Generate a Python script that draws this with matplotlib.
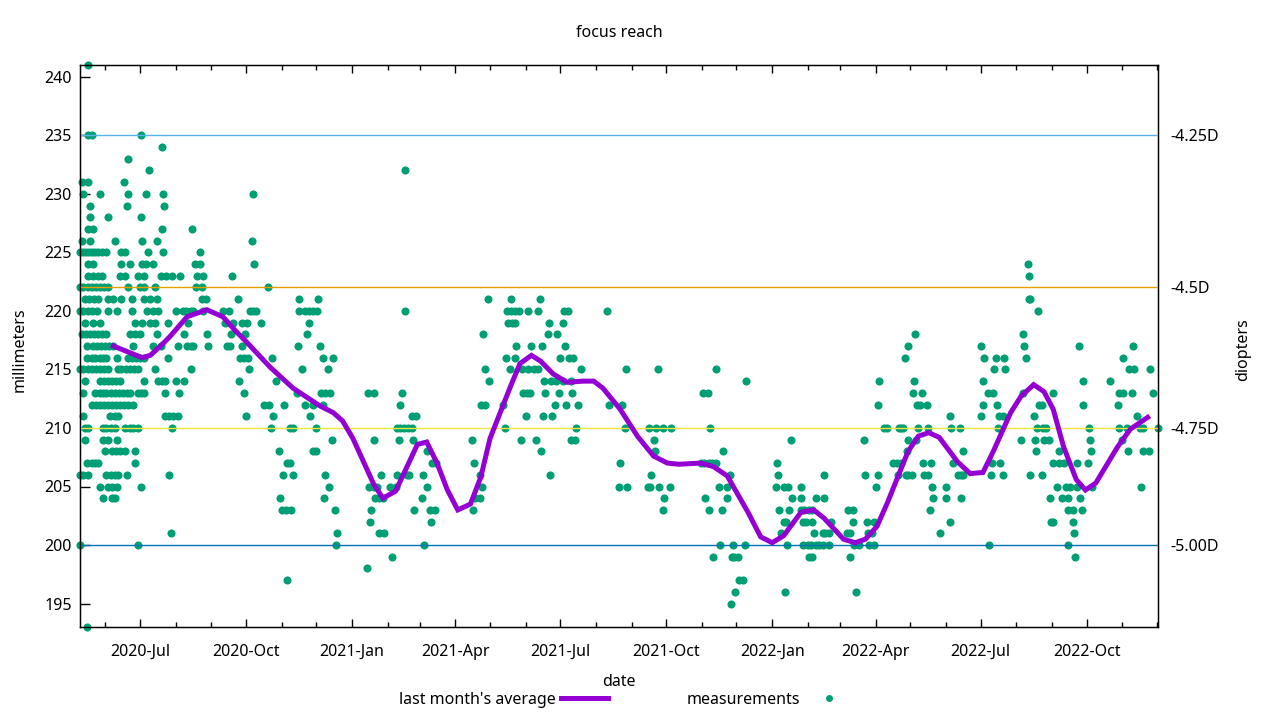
import matplotlib
matplotlib.use("Agg")
import matplotlib.pyplot as plt
import matplotlib.dates as mdates
from matplotlib.lines import Line2D
import numpy as np
import pandas as pd

# ---------------- data ----------------
START = "2020-05-10"   # day 0 of the series; x values below are days since START

# measurements: (millimeters, [days since START])
meas_2020 = [
    (241, [7]),
    (235, [7, 10, 53]),
    (234, [71]),
    (233, [42]),
    (232, [60]),
    (231, [2, 7, 38]),
    (230, [3, 17, 42, 57, 72, 150]),
    (229, [9, 41, 73]),
    (228, [9, 24, 53]),
    (227, [7, 11, 71, 97]),
    (226, [2, 9, 30, 54, 67, 149]),
    (225, [0, 3, 5, 8, 10, 13, 16, 19, 23, 36, 39, 59, 72, 104]),
    (224, [7, 11, 36, 43, 54, 57, 63, 100, 104, 151]),
    (223, [7, 11, 16, 19, 35, 39, 50, 56, 70, 75, 80, 87, 102, 107, 132]),
    (222, [0, 3, 7, 10, 14, 17, 21, 24, 42, 52, 56, 65, 101, 106, 163]),
    (221, [4, 8, 12, 16, 24, 29, 36, 45, 56, 61, 67, 106, 109, 137, 190, 207]),
    (220, [0, 3, 7, 10, 15, 24, 32, 45, 58, 63, 68, 83, 89, 92, 96, 98, 107, 124, 129,
           148, 150, 153, 190, 195, 199, 202, 206]),
    (219, [4, 11, 17, 48, 54, 61, 65, 76, 94, 126, 133, 141, 145, 157, 199]),
    (218, [2, 5, 9, 12, 16, 19, 23, 43, 48, 52, 67, 90, 110, 131, 143, 197]),
    (217, [6, 11, 15, 18, 22, 25, 29, 46, 63, 70, 85, 93, 96, 98, 111, 128, 130, 141, 189, 208]),
    (216, [6, 10, 13, 17, 20, 23, 32, 42, 45, 49, 52, 56, 76, 139, 142, 146, 167, 211, 220]),
    (215, [0, 3, 7, 10, 14, 17, 21, 24, 33, 36, 40, 43, 47, 50, 65, 96, 147, 193, 215]),
    (214, [4, 17, 21, 24, 28, 31, 35, 56, 68, 71, 74, 83, 90, 138, 170]),
    (213, [3, 13, 17, 20, 23, 27, 30, 34, 37, 41, 43, 50, 53, 56, 74, 86, 142, 188, 209, 213, 217]),
    (212, [10, 14, 17, 21, 24, 28, 31, 35, 38, 42, 46, 160, 164, 177, 195, 202, 211]),
    (211, [3, 26, 30, 33, 74, 77, 81, 85, 144, 168, 200]),
    (210, [4, 7, 20, 23, 27, 30, 39, 43, 46, 50, 80, 166, 182, 185, 205]),
    (209, [4, 20, 24, 32, 219]),
    (208, [22, 28, 31, 35, 39, 48, 173, 202, 205]),
    (207, [6, 10, 13, 16, 48, 180, 182]),
    (206, [0, 3, 7, 23, 27, 30, 33, 41, 77, 176, 185, 213]),
    (205, [17, 24, 28, 32, 53, 216]),
    (204, [20, 28, 30, 174, 212]),
    (203, [175, 179, 183, 221]),
    (201, [79, 223]),
    (200, [0, 50, 222]),
    (197, [180]),
    (193, [6]),
]

meas_2021 = [
    (232, [282]),
    (221, [354, 374, 399]),
    (220, [282, 371, 374, 378, 381, 389, 398, 420, 424, 458]),
    (219, [372, 375, 378, 407, 419]),
    (218, [350, 406, 414]),
    (217, [379, 392, 401, 421]),
    (216, [370, 378, 417, 425, 428]),
    (215, [352, 373, 384, 389, 394, 398, 435, 474, 502, 552]),
    (214, [355, 403, 409, 413, 419, 426, 578]),
    (213, [250, 255, 280, 385, 388, 391, 404, 416, 427, 541, 545]),
    (212, [278, 348, 352, 367, 412, 422, 432, 459, 471]),
    (211, [288, 292, 387, 402, 410]),
    (210, [275, 278, 281, 285, 288, 369, 431, 473, 494, 500, 506, 513, 547]),
    (209, [255, 277, 289, 340, 383, 396, 426, 430, 498]),
    (208, [301, 400, 499, 558]),
    (207, [306, 309, 342, 469, 539, 542, 546, 549, 552]),
    (206, [261, 275, 284, 286, 298, 347, 408, 496, 564]),
    (205, [251, 255, 258, 269, 274, 301, 349, 468, 475, 493, 495, 503, 512, 555, 562]),
    (204, [256, 260, 263, 297, 343, 347, 507, 543, 562]),
    (203, [253, 290, 304, 308, 341, 506, 546, 557]),
    (202, [252, 305]),
    (201, [260, 264]),
    (200, [299, 556, 567, 577]),
    (199, [271, 550, 566, 568, 571]),
    (198, [249]),
    (197, [572, 576]),
    (196, [569]),
    (195, [565]),
]

meas_2022 = [
    (224, [823]),
    (223, [824]),
    (221, [824, 825]),
    (220, [832]),
    (218, [725, 819]),
    (217, [719, 782, 820, 867, 914]),
    (216, [716, 785, 795, 802, 821, 906]),
    (215, [794, 803, 911, 915, 929]),
    (214, [694, 724, 784, 871, 894]),
    (213, [723, 731, 788, 793, 819, 845, 902, 906, 913, 932]),
    (212, [693, 727, 729, 735, 784, 796, 833, 835, 871, 901]),
    (211, [755, 782, 798, 801, 828, 918]),
    (210, [698, 701, 711, 713, 715, 728, 736, 756, 764, 797, 831, 836, 839, 876, 902, 909,
           920, 923, 936]),
    (209, [617, 681, 719, 726, 817, 829, 837, 841, 877, 905]),
    (208, [718, 767, 830, 850, 878, 910, 923, 928]),
    (207, [605, 706, 709, 713, 732, 739, 758, 792, 799, 845, 850, 854, 866, 875]),
    (206, [606, 646, 682, 693, 710, 717, 719, 722, 733, 736, 762, 765, 767, 791, 801, 825, 835]),
    (205, [604, 611, 615, 626, 691, 740, 752, 848, 856, 860, 866, 879, 921]),
    (204, [618, 626, 639, 646, 741, 752, 765, 842, 853, 858, 868]),
    (203, [607, 616, 626, 629, 633, 636, 667, 671, 738, 858, 862, 870]),
    (202, [611, 613, 628, 630, 636, 652, 671, 683, 689, 755, 843, 845, 862]),
    (201, [609, 637, 645, 647, 650, 666, 669, 684, 688, 747, 863]),
    (200, [614, 628, 632, 635, 639, 642, 645, 650, 672, 676, 685, 689, 789, 858]),
    (199, [633, 636, 669, 864]),
    (196, [612, 674]),
]

# last month's average (days since START, millimeters)
avg_days = [29, 39, 54, 61, 71, 78, 93, 110, 124, 135, 145, 165, 185, 208, 220, 228, 237,
            255, 263, 274, 293, 301, 310, 319, 328, 339, 348, 356, 374, 382, 392, 400, 411,
            423, 437, 446, 454, 469, 484, 498, 510, 520, 539, 550, 562, 580, 591, 601, 611,
            626, 637, 646, 663, 673, 682, 692, 701, 710, 719, 728, 737, 746, 762, 773, 784,
            793, 808, 817, 828, 837, 845, 854, 865, 873, 882, 901, 912, 927]
avg_mm = [217.0, 216.6, 216.0, 216.2, 217.1, 217.8, 219.5, 220.1, 219.5, 218.3, 217.3, 215.2,
          213.4, 211.9, 211.3, 210.6, 209.1, 205.2, 204.0, 204.6, 208.6, 208.8, 207.0, 204.7,
          203.0, 203.5, 205.8, 209.1, 213.6, 215.5, 216.2, 215.7, 214.6, 213.9, 214.0, 214.0,
          213.4, 211.6, 209.3, 207.6, 207.0, 206.9, 207.0, 206.7, 205.9, 202.8, 200.7, 200.2,
          200.8, 202.8, 203.0, 202.3, 200.5, 200.2, 200.5, 201.6, 203.6, 205.8, 208.0, 209.3,
          209.6, 209.2, 207.1, 206.1, 206.2, 208.0, 211.3, 212.7, 213.7, 213.1, 211.6, 208.4,
          205.6, 204.7, 205.3, 208.4, 209.9, 210.9]

# reference lines (millimeters) and their diopter labels
ref_mm = [235, 222, 210, 200]
ref_labels = ["-4.25D", "-4.5D", "-4.75D", "-5.00D"]
ref_colors = ["#56b4e9", "#e69f00", "#f0e442", "#0072b2"]

y_ticks = [195, 200, 205, 210, 215, 220, 225, 230, 235, 240]

# ---------------- plot ----------------
plt.rcParams['font.family'] = ['Noto Sans', 'DejaVu Sans']
plt.rcParams['font.size'] = 11.5


def to_dates(days):
    return pd.Timestamp(START) + pd.to_timedelta(np.asarray(days, dtype=float), unit='D')


m_days, m_mm = [], []
for group in (meas_2020, meas_2021, meas_2022):
    for mm, days in group:
        for d in days:
            m_days.append(d)
            m_mm.append(mm)
m_dates = to_dates(m_days)

fig = plt.figure(figsize=(12.8, 7.2), dpi=100)
ax = fig.add_axes([80 / 1280, 1 - 627 / 720, 1078 / 1280, 562 / 720])

ax.scatter(m_dates, m_mm, s=34, color='#009e73', linewidths=0, zorder=2, clip_on=False)
for mm, c in zip(ref_mm, ref_colors):
    ax.axhline(mm, color=c, lw=1.0, zorder=3, snap=True)
ax.plot(to_dates(avg_days), avg_mm, color='#9400d3', lw=3.6, zorder=4,
        solid_joinstyle='miter')

ax.set_xlim(m_dates.min(), m_dates.max())
ax.set_ylim(193, 241)
ax.set_yticks(y_ticks)
ax.xaxis.set_major_locator(mdates.MonthLocator(bymonth=[1, 4, 7, 10]))
ax.xaxis.set_major_formatter(mdates.DateFormatter('%Y-%b'))
ax.xaxis.set_minor_locator(mdates.MonthLocator())
ax.tick_params(axis='x', which='major', direction='in', length=6, width=1, top=True, pad=12)
ax.tick_params(axis='x', which='minor', direction='in', length=3.5, width=1, top=True)
ax.tick_params(axis='y', which='major', direction='in', length=7, width=1, right=True, pad=6)
for sp in ax.spines.values():
    sp.set_linewidth(1.0)

ax2 = ax.twinx()
ax2.set_ylim(ax.get_ylim())
ax2.set_yticks(ref_mm)
ax2.set_yticklabels(ref_labels)
ax2.tick_params(axis='y', length=0, pad=9)

fig.text(619 / 1280, 1 - 33 / 720, 'focus reach', ha='center', va='center')
fig.text(619 / 1280, 1 - 682 / 720, 'date', ha='center', va='center')
fig.text(20 / 1280, 1 - 350 / 720, 'millimeters', ha='center', va='center', rotation=90)
fig.text(1243 / 1280, 1 - 350 / 720, 'diopters', ha='center', va='center', rotation=90)

handles = [Line2D([], [], color='#9400d3', lw=3.6),
           Line2D([], [], color='#009e73', marker='o', ls='none', markersize=5,
                  markeredgewidth=0)]
fig.legend(handles, ["last month's average", 'measurements'], loc='center',
           bbox_to_anchor=(626 / 1280, 1 - 700 / 720), ncol=2, frameon=False,
           markerfirst=False, handlelength=3.0, columnspacing=4.9, handletextpad=0.3,
           borderpad=0, borderaxespad=0)

fig.savefig('out.png', dpi=100)
